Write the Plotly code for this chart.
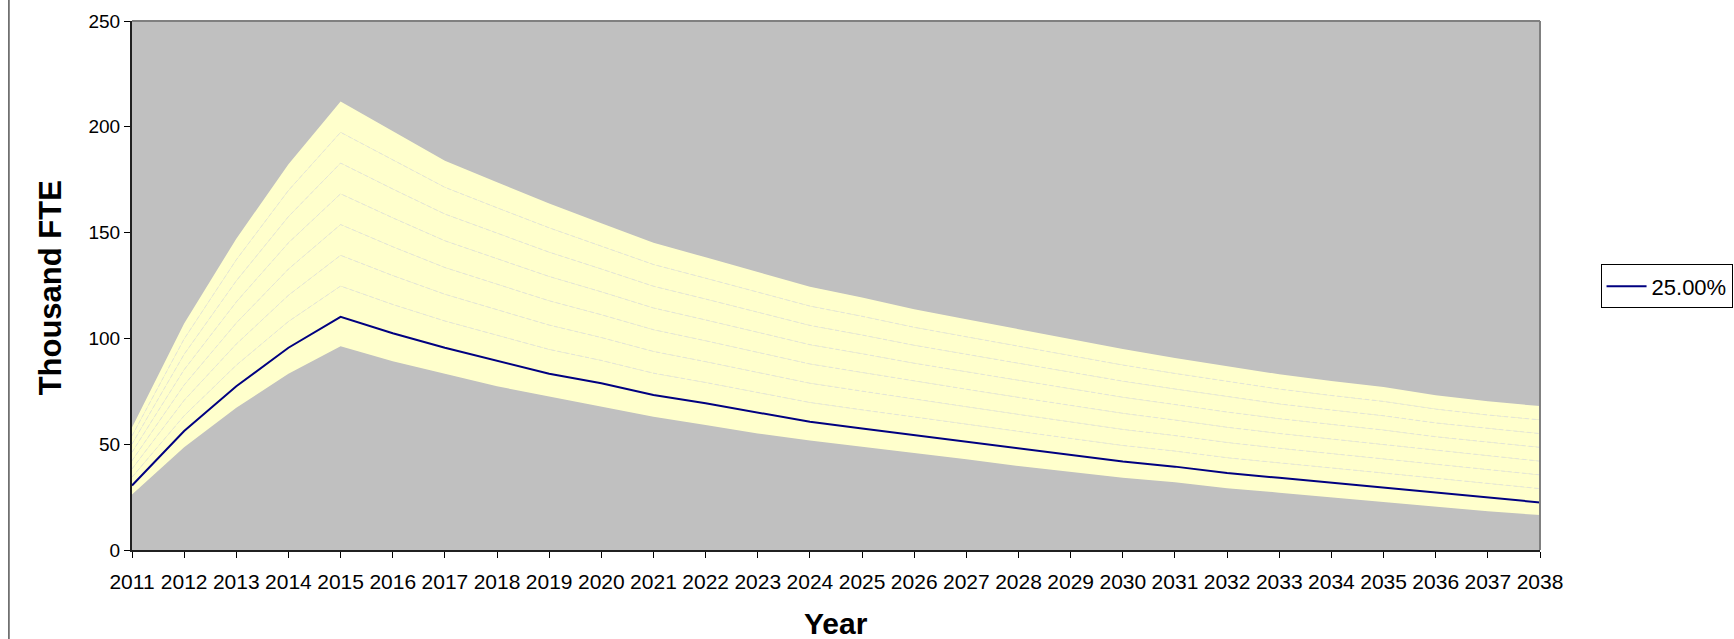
import plotly.graph_objects as go

years = list(range(2011, 2039))

# lower bound of the fan (Thousand FTE)
lower = [26.2, 48.6, 67.2, 83.3, 96.3, 89.2, 83.3, 77.4, 72.5, 67.7,
         63.0, 59.1, 55.1, 51.7, 48.8, 45.7, 42.9, 39.7, 37.0, 34.2,
         32.0, 29.2, 27.1, 24.9, 22.7, 20.5, 18.3, 16.5]

# 25.00% line
p25 = [30.5, 56.2, 77.4, 95.6, 110.2, 102.4, 95.6, 89.5, 83.3, 78.8,
       73.3, 69.3, 64.9, 60.6, 57.4, 54.3, 51.2, 48.0, 44.9, 41.8,
       39.4, 36.4, 34.1, 31.8, 29.6, 27.4, 25.1, 22.5]

# width of each stacked band above the 25.00% line (7 bands)
band_width = [3.91, 7.26, 9.96, 12.39, 14.53, 13.64, 12.63, 12.04, 11.49, 10.8,
              10.27, 9.86, 9.5, 9.11, 8.84, 8.49, 8.26, 8.04, 7.81, 7.6,
              7.34, 7.2, 6.99, 6.87, 6.77, 6.53, 6.45, 6.5]
n_bands = 7

y_ticks = [0, 50, 100, 150, 200, 250]

FILL = "#FFFFCC"
FAINT = "#E3E5DA"
FONT = "Liberation Sans, Arial, sans-serif"

fig = go.Figure()

# lower bound (no fill)
fig.add_trace(go.Scatter(x=years, y=lower, mode="lines", line=dict(width=0),
                         showlegend=False, hoverinfo="skip"))
# band between lower bound and 25% line
fig.add_trace(go.Scatter(x=years, y=p25, mode="lines", line=dict(width=0),
                         fill="tonexty", fillcolor=FILL,
                         showlegend=False, hoverinfo="skip"))
# stacked fan above 25%
fig.add_trace(go.Scatter(x=years, y=p25, mode="lines", line=dict(width=0),
                         stackgroup="fan", fill="none",
                         showlegend=False, hoverinfo="skip"))
for k in range(n_bands):
    top = (k == n_bands - 1)
    fig.add_trace(go.Scatter(
        x=years, y=band_width, mode="lines",
        stackgroup="fan", fill="tonexty", fillcolor=FILL,
        line=dict(width=0 if top else 1, color=FAINT, dash="4px,3px"),
        showlegend=False, hoverinfo="skip"))

# 25.00% line on top
fig.add_trace(go.Scatter(x=years, y=p25, mode="lines", name="25.00%",
                         line=dict(color="#000080", width=2)))

# figure is a little wider than the window so the legend box runs off the
# right edge, as in the reference
fig.update_layout(
    width=1790, height=639,
    margin=dict(l=132, r=250, t=21, b=89),
    paper_bgcolor="white",
    plot_bgcolor="#C0C0C0",
    font=dict(family=FONT, color="black"),
    showlegend=True,
    legend=dict(x=1.043, y=0.54, xanchor="left", yanchor="top",
                bordercolor="black", borderwidth=1, bgcolor="white",
                font=dict(size=22, family=FONT), itemwidth=40,
                tracegroupgap=0),
)

fig.update_xaxes(
    range=[2011, 2038], tickmode="array", tickvals=years,
    ticktext=[str(y) for y in years],
    ticks="outside", ticklen=6, tickcolor="black",
    tickfont=dict(size=21, family=FONT), ticklabelstandoff=6,
    showgrid=False, zeroline=False,
    showline=True, linecolor="#202020", linewidth=2,
)
fig.update_yaxes(
    range=[0, 250], tickmode="array", tickvals=y_ticks,
    ticks="outside", ticklen=6, tickcolor="black",
    tickfont=dict(size=19, family=FONT), ticklabelstandoff=0,
    showgrid=False, zeroline=False,
    showline=True, linecolor="#202020", linewidth=2,
)

# plot-area frame (top and right sides grey)
fig.add_shape(type="line", xref="paper", yref="paper", x0=0, x1=1, y0=1, y1=1,
              line=dict(color="#808080", width=2))
fig.add_shape(type="line", xref="paper", yref="paper", x0=1, x1=1, y0=0, y1=1,
              line=dict(color="#808080", width=2))
# chart-area left border
fig.add_shape(type="line", xref="paper", yref="paper",
              x0=-0.0874, x1=-0.0874, y0=-0.2, y1=1.1,
              line=dict(color="black", width=1))

fig.add_annotation(text="<b>Year</b>", xref="paper", yref="paper",
                   x=0.5, y=-0.1380, xanchor="center", yanchor="middle",
                   showarrow=False, font=dict(size=30, family=FONT))
fig.add_annotation(text="<b>Thousand FTE</b>", xref="paper", yref="paper",
                   x=-0.0577, y=0.496, xanchor="center", yanchor="middle",
                   textangle=-90, showarrow=False,
                   font=dict(size=31, family=FONT))

fig.write_html("out.html",
               config={"displayModeBar": False},
               post_script="document.body.style.margin='0';"
                           "document.body.style.overflow='hidden';")
